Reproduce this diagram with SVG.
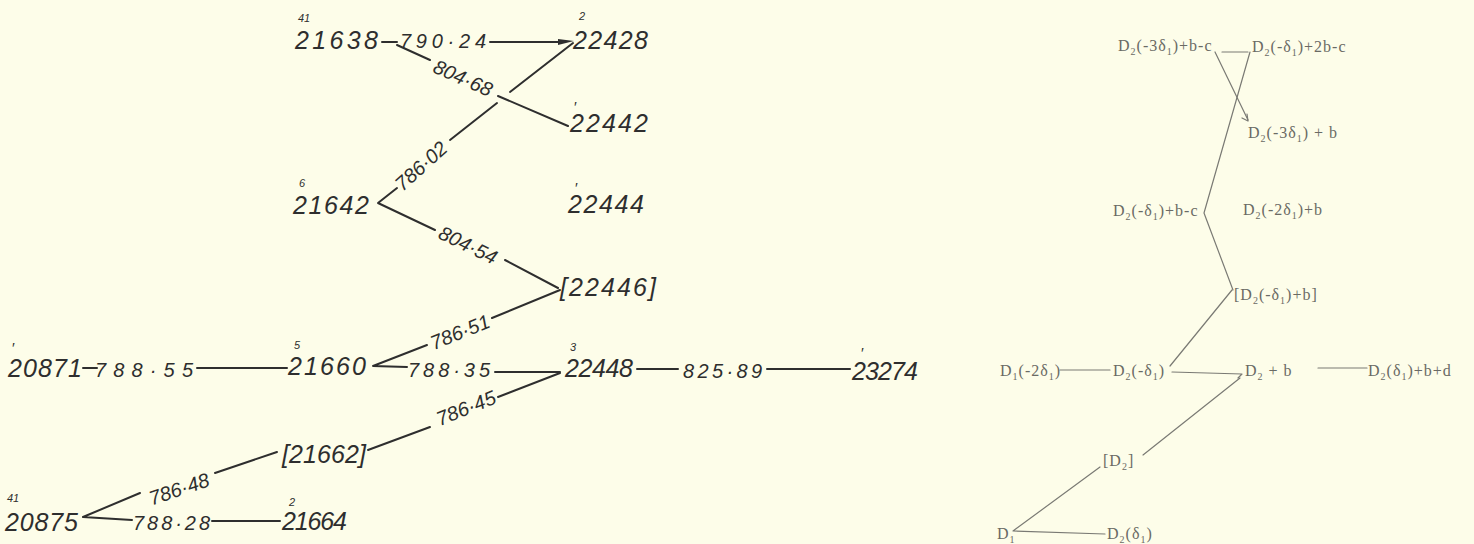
<svg xmlns="http://www.w3.org/2000/svg" width="1474" height="544" viewBox="0 0 1474 544">
<style>
.n{font-family:"Liberation Sans",Arial,sans-serif;font-style:italic;font-size:25px;fill:#2e2e2e}
.s{font-family:"Liberation Sans",Arial,sans-serif;font-style:italic;font-size:11px;fill:#2e2e2e}
.p{font-family:"Liberation Sans",Arial,sans-serif;font-size:15px;fill:#2e2e2e}
.e{font-family:"Liberation Sans",Arial,sans-serif;font-style:italic;font-size:20px;fill:#2e2e2e}
.r{dominant-baseline:central;text-anchor:middle}
.L{fill:none;stroke:#2e2e2e;stroke-width:2;stroke-linecap:round;stroke-linejoin:round}
.t{font-family:"Liberation Serif","Times New Roman",serif;font-size:16px;fill:#6a6a64;letter-spacing:1px}
.sub{font-size:10px}
.R{fill:none;stroke:#7a7a74;stroke-width:1.2;stroke-linecap:round;stroke-linejoin:round}
</style>
<rect width="1474" height="544" fill="#fdfde9"/>
<g id="connectors">
<polyline class="L" points="382,42 397,42"/>
<polyline class="L" points="490,42 563,42"/>
<polygon points="558,39 574,41 558,45" fill="#2e2e2e"/>
<polyline class="L" points="397,45 430,60"/>
<polyline class="L" points="498,96 568,126"/>
<polyline class="L" points="573,43 510,92"/>
<polyline class="L" points="497,103 450,140"/>
<polyline class="L" points="397,188 378,203 435,230"/>
<polyline class="L" points="505,260 558,288"/>
<polyline class="L" points="560,290 492,318"/>
<polyline class="L" points="427,345 373,366 407,367"/>
<polyline class="L" points="495,372 560,372"/>
<polyline class="L" points="637,369 678,369"/>
<polyline class="L" points="767,369 850,369"/>
<polyline class="L" points="83,368 97,368"/>
<polyline class="L" points="197,368 287,368"/>
<polyline class="L" points="560,373 498,397"/>
<polyline class="L" points="430,427 368,450"/>
<polyline class="L" points="277,452 215,473"/>
<polyline class="L" points="140,493 83,517 132,520"/>
<polyline class="L" points="212,521 280,521"/>
<polyline class="R" points="1222,52 1248,52"/>
<polyline class="R" points="1215,52 1248,120"/>
<polyline class="R" points="1242,118 1248,121 1247,114"/>
<polyline class="R" points="1250,52 1204,213 1233,290"/>
<polyline class="R" points="1232,290 1170,366"/>
<polyline class="R" points="1172,372 1242,374 1238,378"/>
<polyline class="R" points="1318,368 1367,368"/>
<polyline class="R" points="1060,370 1110,370"/>
<polyline class="R" points="1240,378 1143,455"/>
<polyline class="R" points="1100,467 1013,531 1105,534"/>
</g>
<g id="edge-labels">
<text class="e" x="400" y="48" textLength="86" lengthAdjust="spacing">790·24</text>
<text class="e r" x="463" y="78" transform="rotate(24 463 78)">804·68</text>
<text class="e r" x="421" y="166" transform="rotate(-42 421 166)">786·02</text>
<text class="e r" x="468" y="245" transform="rotate(26 468 245)">804·54</text>
<text class="e r" x="460" y="332" transform="rotate(-22 460 332)">786·51</text>
<text class="e" x="408" y="377" textLength="82" lengthAdjust="spacing">788·35</text>
<text class="e" x="95" y="377" textLength="98" lengthAdjust="spacing">788·55</text>
<text class="e" x="683" y="378" textLength="79" lengthAdjust="spacing">825·89</text>
<text class="e r" x="466" y="408" transform="rotate(-22 466 408)">786·45</text>
<text class="e r" x="179" y="489" transform="rotate(-18.5 179 489)">786·48</text>
<text class="e" x="133" y="530" textLength="77" lengthAdjust="spacing">788·28</text>
</g>
<g id="n21638"><text class="s" x="298" y="22">41</text><text class="n" x="295" y="49" textLength="83" lengthAdjust="spacing">21638</text></g>
<g id="n22428"><text class="s" x="579" y="20">2</text><text class="n" x="573" y="49" textLength="75" lengthAdjust="spacing">22428</text></g>
<g id="n22442"><text class="p" x="574" y="112">′</text><text class="n" x="570" y="132" textLength="78" lengthAdjust="spacing">22442</text></g>
<g id="n21642"><text class="s" x="299" y="187">6</text><text class="n" x="293" y="214" textLength="76" lengthAdjust="spacing">21642</text></g>
<g id="n22444"><text class="p" x="575" y="193">′</text><text class="n" x="568" y="213" textLength="76" lengthAdjust="spacing">22444</text></g>
<g id="n22446"><text class="n" x="560" y="296" textLength="96" lengthAdjust="spacing">[22446]</text></g>
<g id="n20871"><text class="p" x="12" y="353">′</text><text class="n" x="8" y="377" textLength="74" lengthAdjust="spacing">20871</text></g>
<g id="n21660"><text class="s" x="294" y="349">5</text><text class="n" x="288" y="375" textLength="78" lengthAdjust="spacing">21660</text></g>
<g id="n22448"><text class="s" x="570" y="351">3</text><text class="n" x="565" y="377" textLength="68" lengthAdjust="spacing">22448</text></g>
<g id="n23274"><text class="p" x="861" y="358">′</text><text class="n" x="852" y="380" textLength="66" lengthAdjust="spacing">23274</text></g>
<g id="n21662"><text class="n" x="282" y="463" textLength="84" lengthAdjust="spacing">[21662]</text></g>
<g id="n20875"><text class="s" x="7" y="502">41</text><text class="n" x="5" y="531" textLength="73" lengthAdjust="spacing">20875</text></g>
<g id="n21664"><text class="s" x="289" y="506">2</text><text class="n" x="282" y="530" textLength="65" lengthAdjust="spacing">21664</text></g>
<g id="rA"><text class="t" x="1118" y="51">D<tspan class="sub" dy="4">2</tspan><tspan dy="-4">(-3δ</tspan><tspan class="sub" dy="4">1</tspan><tspan dy="-4">)+b-c</tspan></text></g>
<g id="rB"><text class="t" x="1252" y="52">D<tspan class="sub" dy="4">2</tspan><tspan dy="-4">(-δ</tspan><tspan class="sub" dy="4">1</tspan><tspan dy="-4">)+2b-c</tspan></text></g>
<g id="rC"><text class="t" x="1248" y="138">D<tspan class="sub" dy="4">2</tspan><tspan dy="-4">(-3δ</tspan><tspan class="sub" dy="4">1</tspan><tspan dy="-4">) + b</tspan></text></g>
<g id="rD"><text class="t" x="1113" y="216">D<tspan class="sub" dy="4">2</tspan><tspan dy="-4">(-δ</tspan><tspan class="sub" dy="4">1</tspan><tspan dy="-4">)+b-c</tspan></text></g>
<g id="rE"><text class="t" x="1243" y="215">D<tspan class="sub" dy="4">2</tspan><tspan dy="-4">(-2δ</tspan><tspan class="sub" dy="4">1</tspan><tspan dy="-4">)+b</tspan></text></g>
<g id="rF"><text class="t" x="1234" y="300">[D<tspan class="sub" dy="4">2</tspan><tspan dy="-4">(-δ</tspan><tspan class="sub" dy="4">1</tspan><tspan dy="-4">)+b]</tspan></text></g>
<g id="rG"><text class="t" x="1000" y="376">D<tspan class="sub" dy="4">1</tspan><tspan dy="-4">(-2δ</tspan><tspan class="sub" dy="4">1</tspan><tspan dy="-4">)</tspan></text></g>
<g id="rH"><text class="t" x="1113" y="376">D<tspan class="sub" dy="4">2</tspan><tspan dy="-4">(-δ</tspan><tspan class="sub" dy="4">1</tspan><tspan dy="-4">)</tspan></text></g>
<g id="rI"><text class="t" x="1245" y="376">D<tspan class="sub" dy="4">2</tspan><tspan dy="-4"> + b</tspan></text></g>
<g id="rJ"><text class="t" x="1368" y="376">D<tspan class="sub" dy="4">2</tspan><tspan dy="-4">(δ</tspan><tspan class="sub" dy="4">1</tspan><tspan dy="-4">)+b+d</tspan></text></g>
<g id="rK"><text class="t" x="1103" y="466">[D<tspan class="sub" dy="4">2</tspan><tspan dy="-4">]</tspan></text></g>
<g id="rL"><text class="t" x="997" y="539">D<tspan class="sub" dy="4">1</tspan></text></g>
<g id="rM"><text class="t" x="1107" y="539">D<tspan class="sub" dy="4">2</tspan><tspan dy="-4">(δ</tspan><tspan class="sub" dy="4">1</tspan><tspan dy="-4">)</tspan></text></g>
</svg>
